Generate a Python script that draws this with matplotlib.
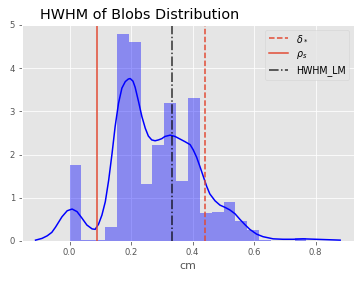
import numpy as np
import matplotlib
matplotlib.use("Agg")
import matplotlib.pyplot as plt

plt.style.use("ggplot")

# histogram (density), 20 equal bins from 0 to 0.77
bin_edges = np.linspace(0.0, 0.77, 21)
bin_heights = [1.76, 0.02, 0.02, 0.32, 4.80, 4.61, 1.32, 2.23, 3.19, 1.39,
               3.32, 0.65, 0.67, 0.90, 0.46, 0.26, 0.03, 0.01, 0.0, 0.07]

# KDE curve
kde_x = [-0.111, -0.090, -0.073, -0.058, -0.046, -0.025, -0.008, 0.008, 0.024, 0.040,
         0.056, 0.073, 0.083, 0.094, 0.105, 0.116, 0.127, 0.138, 0.148, 0.159,
         0.170, 0.181, 0.191, 0.197, 0.206, 0.213, 0.224, 0.235, 0.246, 0.256,
         0.267, 0.278, 0.289, 0.300, 0.310, 0.327, 0.343, 0.359, 0.375, 0.392,
         0.402, 0.413, 0.424, 0.435, 0.446, 0.456, 0.473, 0.489, 0.505, 0.521,
         0.538, 0.554, 0.570, 0.586, 0.608, 0.629, 0.662, 0.694, 0.727, 0.760,
         0.800, 0.840, 0.880]
kde_y = [0.02, 0.06, 0.12, 0.20, 0.32, 0.56, 0.70, 0.74, 0.68, 0.53,
         0.37, 0.28, 0.27, 0.39, 0.60, 0.91, 1.41, 2.03, 2.65, 3.19,
         3.54, 3.69, 3.75, 3.76, 3.70, 3.56, 3.23, 2.88, 2.61, 2.43,
         2.34, 2.32, 2.34, 2.37, 2.42, 2.45, 2.42, 2.36, 2.30, 2.23,
         2.11, 1.94, 1.72, 1.49, 1.26, 1.09, 0.93, 0.83, 0.78, 0.72,
         0.63, 0.50, 0.38, 0.27, 0.16, 0.10, 0.05, 0.04, 0.04, 0.05,
         0.04, 0.03, 0.02]

delta_s = 0.439
rho_s = 0.089
hwhm_lm = 0.332

fig = plt.figure(figsize=(362 / 72, 282 / 72), dpi=72)
ax = fig.add_axes([22 / 362, 41 / 282, 332 / 362, 216 / 282])

ax.bar(bin_edges[:-1], bin_heights, width=np.diff(bin_edges), align="edge",
       color="b", alpha=0.4, linewidth=0)
ax.plot(kde_x, kde_y, color="b", lw=1.5)

ax.axvline(delta_s, color="#E24A33", ls="--", lw=1.5, label=r"$\delta_*$")
ax.axvline(rho_s, color="#E24A33", ls="-", lw=1.5, label=r"$\rho_s$")
ax.axvline(hwhm_lm, color="k", ls="-.", lw=1.5, alpha=0.8, label="HWHM_LM")

ax.set_xlim(-0.155, 0.925)
ax.set_ylim(0, 5.0)
ax.set_xticks([0.0, 0.2, 0.4, 0.6, 0.8])
ax.tick_params(labelsize=8.5)
ax.set_xlabel("cm", fontsize=11)
ax.set_title("HWHM of Blobs Distribution", fontsize=14.4, x=0.355)
ax.legend(loc="upper right", fontsize=9.5)

fig.savefig("out.png", dpi=72)
